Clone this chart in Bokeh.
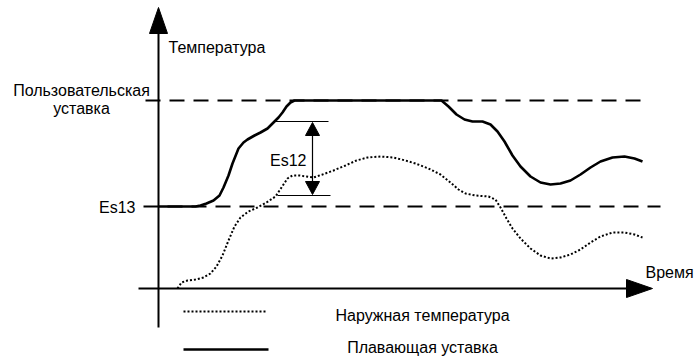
from bokeh.plotting import figure
from bokeh.models import Range1d
from bokeh.core.properties import value
from bokeh.embed import file_html
from bokeh.resources import INLINE

# ---- data (diagram coordinates, y grows downward) ----
setpoint_level = 100      # "Пользовательская уставка"
es13_level = 206          # Es13
time_axis_level = 288
temp_axis_x = 158

# Floating setpoint (solid)
float_x = [158, 195, 200, 206, 213, 219, 223, 228, 232, 238, 243, 247, 254, 260, 267, 273, 278, 282, 286, 290, 294,
           441, 448, 456, 464, 472, 482, 490, 497, 504, 512, 520, 530, 540, 550, 560, 570, 580, 590, 600, 612, 624, 634, 642]
float_y = [206, 206, 205, 203, 200, 195, 187, 175, 163, 148, 142, 139, 135, 132, 128, 122, 117, 112, 106, 102, 100,
           100, 106, 114, 119, 121, 121, 124, 131, 141, 155, 166, 176, 182, 184, 183, 180, 174, 167, 161, 157, 156, 158, 161]

# Outside temperature (dotted)
out_x = [177, 181, 187, 195, 203, 210, 216, 222, 228, 234, 240, 248, 257, 266, 275, 281, 287, 292, 299, 306, 313, 322,
         333, 345, 356, 367, 380, 393, 405, 415, 428, 440, 450, 458, 465, 475, 488, 495, 500, 506, 512, 520, 530, 540,
         550, 560, 570, 580, 590, 600, 612, 624, 634, 642]
out_y = [288, 282, 280, 279, 277, 273, 266, 255, 240, 226, 217, 211, 207, 202, 196, 187, 178, 175, 175, 176, 177, 174,
         170, 165, 160, 157, 156, 157, 160, 163, 168, 174, 182, 189, 193, 195, 196, 199, 207, 218, 228, 238, 248, 255,
         258, 257, 254, 249, 242, 236, 232, 232, 234, 237]

es12_top, es12_bottom, es12_x = 121, 195, 312

labels_font = value("Liberation Sans")
FS = "16px"

W, H = 694, 359
p = figure(width=W, height=H, output_backend="svg", toolbar_location=None,
           x_range=Range1d(0, W), y_range=Range1d(H, 0),
           min_border=0, background_fill_color="white", border_fill_color="white")
p.axis.visible = False
p.grid.visible = False
p.outline_line_color = None

# dashed reference lines
p.line([145, 643], [setpoint_level] * 2, line_color="black", line_width=2, line_dash="15 9")
p.line([143, 660], [es13_level] * 2, line_color="black", line_width=2, line_dash="15 9")

# axes
p.line([temp_axis_x, temp_axis_x], [327, 30], line_color="black", line_width=2)
p.patch([temp_axis_x - 9, temp_axis_x + 9, temp_axis_x], [33, 33, 7], color="black")
p.line([138, 628], [time_axis_level] * 2, line_color="black", line_width=2)
p.patch([626, 626, 652], [time_axis_level - 9, time_axis_level + 9, time_axis_level], color="black")

# curves
p.line(out_x, out_y, line_color="black", line_width=2, line_dash="2 2")
p.line(float_x, float_y, line_color="black", line_width=2.6, line_join="round")

# Es12 band
p.line([275, 328], [es12_top] * 2, line_color="black", line_width=1)
p.line([277, 330], [es12_bottom] * 2, line_color="black", line_width=1)
p.line([es12_x, es12_x], [es12_top + 10, es12_bottom - 10], line_color="black", line_width=1.2)
p.patch([es12_x - 7, es12_x + 7, es12_x], [es12_top + 14, es12_top + 14, es12_top + 1], color="black")
p.patch([es12_x - 7, es12_x + 7, es12_x], [es12_bottom - 14, es12_bottom - 14, es12_bottom - 1], color="black")

# texts
p.text(x=[168], y=[47], text=["Температура"], text_font=labels_font, text_font_size=FS,
       text_baseline="middle", text_align="left")
p.text(x=[81], y=[90], text=["Пользовательская"], text_font=labels_font, text_font_size=FS,
       text_baseline="middle", text_align="center")
p.text(x=[81], y=[108], text=["уставка"], text_font=labels_font, text_font_size=FS,
       text_baseline="middle", text_align="center")
p.text(x=[135], y=[207], text=["Es13"], text_font=labels_font, text_font_size=FS,
       text_baseline="middle", text_align="right")
p.text(x=[306], y=[160], text=["Es12"], text_font=labels_font, text_font_size=FS,
       text_baseline="middle", text_align="right")
p.text(x=[645], y=[272], text=["Время"], text_font=labels_font, text_font_size=FS,
       text_baseline="middle", text_align="left")

# legend
p.line([183, 267], [311, 311], line_color="black", line_width=2, line_dash="2 2")
p.line([183, 268], [349, 349], line_color="black", line_width=2.6)
p.text(x=[422], y=[315], text=["Наружная температура"], text_font=labels_font, text_font_size=FS,
       text_baseline="middle", text_align="center")
p.text(x=[422], y=[347], text=["Плавающая уставка"], text_font=labels_font, text_font_size=FS,
       text_baseline="middle", text_align="center")

open("out.html", "w").write(file_html(p, INLINE))
